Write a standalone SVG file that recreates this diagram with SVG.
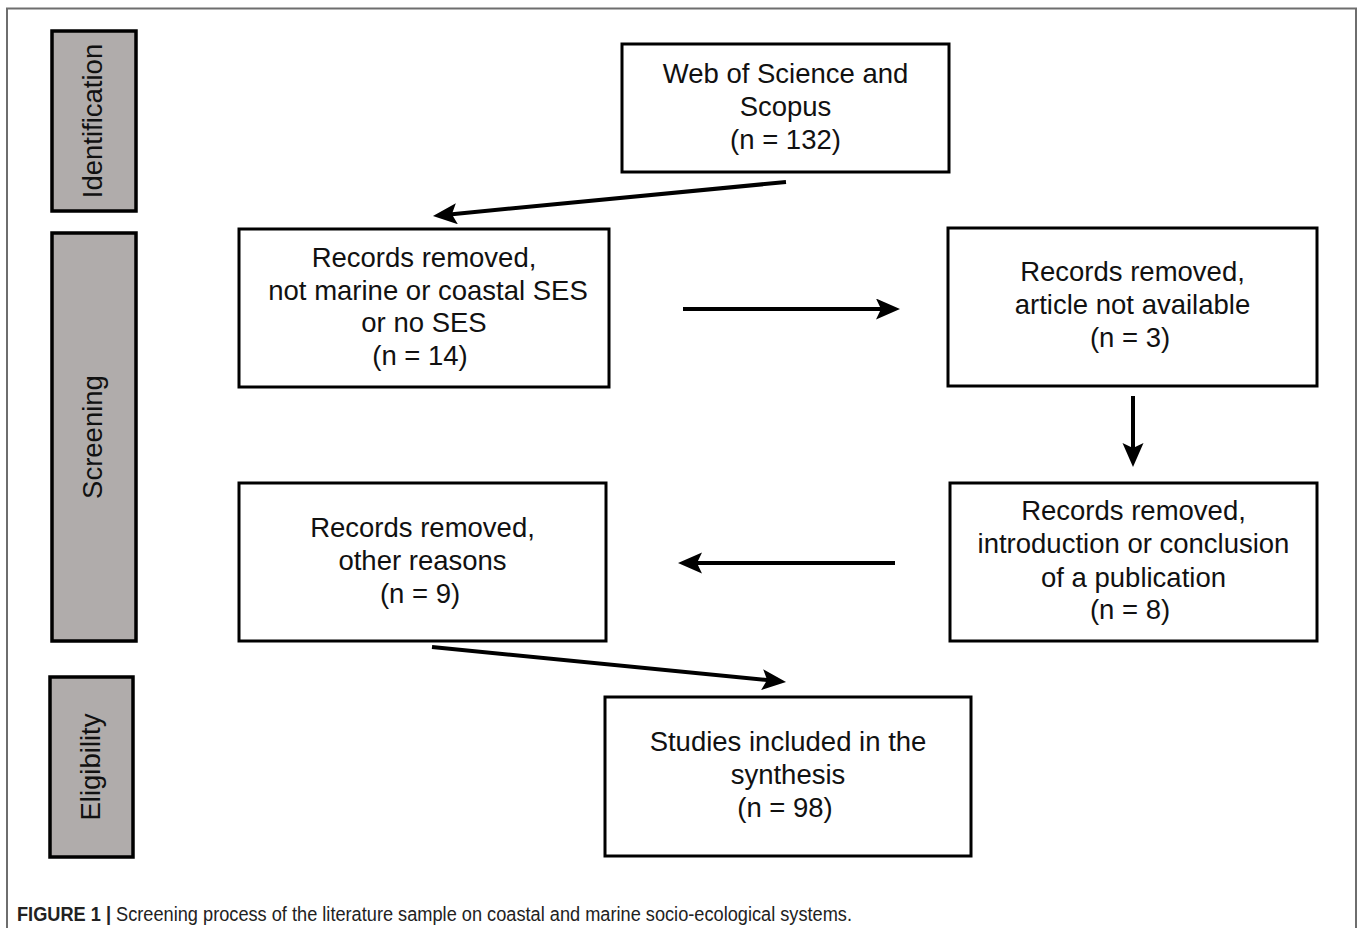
<svg xmlns="http://www.w3.org/2000/svg" width="1358" height="928" viewBox="0 0 1358 928">
<style>
.frame{fill:none;stroke:#6e6e6e;stroke-width:2}
.stage{fill:#b0acab;stroke:#000;stroke-width:3.5}
.box{fill:#fff;stroke:#000;stroke-width:3}
.t{font-family:"Liberation Sans",Arial,sans-serif;font-size:27.5px;fill:#111;text-anchor:middle}
.con{stroke:#000;stroke-width:4;fill:none;marker-end:url(#ah)}
.cap{font-family:"Liberation Sans",Arial,sans-serif;font-size:20px;fill:#222}
</style>
<defs>
<marker id="ah" markerUnits="userSpaceOnUse" markerWidth="26" markerHeight="22" refX="10" refY="10.5" orient="auto">
<path d="M0,0 L24,10.5 L0,21 L5,10.5 z" fill="#000"/>
</marker>
</defs>
<rect width="1358" height="928" fill="#fff"/>
<path class="frame" d="M7,940 L7,8.5 L1356,8.5 L1356,940"/>

<g id="stage-identification">
<rect class="stage" x="52" y="31" width="84" height="180"/>
<text class="t" transform="translate(102,121) rotate(-90)">Identification</text>
</g>
<g id="stage-screening">
<rect class="stage" x="52" y="233" width="84" height="408"/>
<text class="t" transform="translate(102,437) rotate(-90)">Screening</text>
</g>
<g id="stage-eligibility">
<rect class="stage" x="50" y="677" width="83" height="180"/>
<text class="t" transform="translate(100,767) rotate(-90)">Eligibility</text>
</g>

<g id="n-wos">
<rect class="box" x="622" y="44" width="327" height="128"/>
<text class="t" x="785.5" y="83">Web of Science and</text>
<text class="t" x="785.5" y="116">Scopus</text>
<text class="t" x="785.5" y="149">(n = 132)</text>
</g>
<g id="n-marine">
<rect class="box" x="239" y="229" width="370" height="158"/>
<text class="t" x="424" y="267">Records removed,</text>
<text class="t" x="428" y="300">not marine or coastal SES</text>
<text class="t" x="424" y="332">or no SES</text>
<text class="t" x="420" y="365">(n = 14)</text>
</g>
<g id="n-article">
<rect class="box" x="948" y="228" width="369" height="158"/>
<text class="t" x="1132.5" y="281">Records removed,</text>
<text class="t" x="1132.5" y="314">article not available</text>
<text class="t" x="1130" y="347">(n = 3)</text>
</g>
<g id="n-intro">
<rect class="box" x="950" y="483" width="367" height="158"/>
<text class="t" x="1133.5" y="520">Records removed,</text>
<text class="t" x="1133.5" y="553">introduction or conclusion</text>
<text class="t" x="1133.5" y="587">of a publication</text>
<text class="t" x="1130" y="619">(n = 8)</text>
</g>
<g id="n-other">
<rect class="box" x="239" y="483" width="367" height="158"/>
<text class="t" x="422.5" y="537">Records removed,</text>
<text class="t" x="422.5" y="570">other reasons</text>
<text class="t" x="420" y="603">(n = 9)</text>
</g>
<g id="n-studies">
<rect class="box" x="605" y="697" width="366" height="159"/>
<text class="t" x="788" y="751">Studies included in the</text>
<text class="t" x="788" y="784">synthesis</text>
<text class="t" x="785" y="817">(n = 98)</text>
</g>

<g id="connectors">
<line class="con" x1="786" y1="182" x2="446.9" y2="214.7"/>
<line class="con" x1="683" y1="309" x2="886" y2="309"/>
<line class="con" x1="1133" y1="396" x2="1133" y2="453"/>
<line class="con" x1="895" y1="563" x2="692" y2="563"/>
<line class="con" x1="432" y1="647" x2="772.1" y2="680.6"/>
</g>

<g id="caption">
<text class="cap" x="17" y="921" textLength="835" lengthAdjust="spacingAndGlyphs"><tspan font-weight="bold">FIGURE 1 |</tspan> Screening process of the literature sample on coastal and marine socio-ecological systems.</text>
</g>
</svg>
